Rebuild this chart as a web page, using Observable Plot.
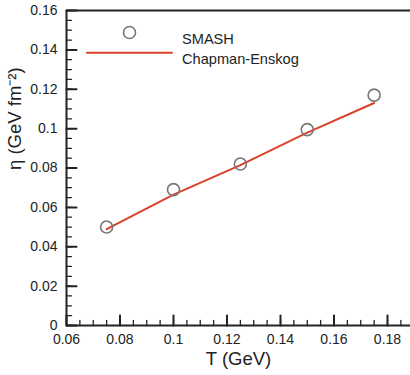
<!DOCTYPE html>
<html>
<head>
<meta charset="utf-8">
<script src="https://cdn.jsdelivr.net/npm/d3@7"></script>
<script src="https://cdn.jsdelivr.net/npm/@observablehq/plot@0.6"></script>
<style>
  html, body { margin: 0; padding: 0; background: white; }
</style>
</head>
<body>
<div id="chart"></div>
<script>
// Data
const temperatures = [0.075, 0.1, 0.125, 0.15, 0.175];
const smashEta = [0.050, 0.069, 0.082, 0.0995, 0.117];
const ceTemps = [0.075, 0.1, 0.125, 0.15, 0.175];
const ceEta = [0.049, 0.0665, 0.0815, 0.098, 0.113];
const xTickLabels = [0.06, 0.08, 0.1, 0.12, 0.14, 0.16, 0.18];
const yTickLabels = [0, 0.02, 0.04, 0.06, 0.08, 0.1, 0.12, 0.14, 0.16];
const seriesNames = ["SMASH", "Chapman-Enskog"];

const xMinor = d3.range(0, 27).map(i => 0.06 + i * 0.005).filter(v => v < 0.188);
const yMinor = d3.range(0, 33).map(i => i * 0.005);

const smash = temperatures.map((t, i) => ({T: t, eta: smashEta[i]}));
const ce = ceTemps.map((t, i) => ({T: t, eta: ceEta[i]}));

const red = "#d9412b";
const gray = "#777";
const ink = "#222";

const tickShape = {draw(context, l) { context.moveTo(0, 0); context.lineTo(0, -l); }};

const chart = Plot.plot({
  width: 410,
  height: 375,
  marginLeft: 66,
  marginRight: 0,
  marginTop: 10,
  marginBottom: 50,
  style: {fontFamily: "'Liberation Sans', Arial, Helvetica, sans-serif", fontSize: "14px", color: ink, background: "white"},
  x: {domain: [0.06, 0.1886]},
  y: {domain: [0, 0.16]},
  marks: [
    Plot.axisX(xTickLabels, {tickSize: 0, tickPadding: 9, tickFormat: d => String(d), label: null, fontSize: 14}),
    Plot.axisY(yTickLabels, {tickSize: 0, tickPadding: 9, tickFormat: d => String(d), label: null, fontSize: 14}),
    // minor and major ticks (inward)
    Plot.vector(xMinor, {x: d => d, frameAnchor: "bottom", length: 5, anchor: "start", shape: tickShape, stroke: ink, strokeWidth: 1.3}),
    Plot.vector(xTickLabels, {x: d => d, frameAnchor: "bottom", length: 10, anchor: "start", shape: tickShape, stroke: ink, strokeWidth: 2}),
    Plot.vector(yMinor, {y: d => d, frameAnchor: "left", length: 5, rotate: 90, anchor: "start", shape: tickShape, stroke: ink, strokeWidth: 1.3}),
    Plot.vector(yTickLabels, {y: d => d, frameAnchor: "left", length: 10, rotate: 90, anchor: "start", shape: tickShape, stroke: ink, strokeWidth: 2}),
    // frame (left, bottom, top)
    Plot.ruleX([0.06], {stroke: ink, strokeWidth: 2}),
    Plot.ruleY([0, 0.16], {stroke: ink, strokeWidth: 2}),
    // data
    Plot.line(ce, {x: "T", y: "eta", stroke: red, strokeWidth: 2}),
    Plot.dot(smash, {x: "T", y: "eta", r: 6, stroke: gray, strokeWidth: 1.6, fill: "none"}),
    // legend
    Plot.dot([seriesNames[0]], {frameAnchor: "top-left", dx: 63, dy: 22, r: 6, stroke: gray, strokeWidth: 1.6, fill: "none"}),
    Plot.vector([seriesNames[1]], {frameAnchor: "top-left", dx: 20.5, dy: 42.3, rotate: 90, length: 85, anchor: "start", shape: tickShape, stroke: red, strokeWidth: 2}),
    Plot.text([seriesNames[0]], {frameAnchor: "top-left", text: d => d, dx: 115.5, dy: 23, textAnchor: "start", fontSize: 14.6, fill: ink}),
    Plot.text([seriesNames[1]], {frameAnchor: "top-left", text: d => d, dx: 115.5, dy: 43.5, textAnchor: "start", fontSize: 14.6, fill: ink}),
    // axis titles
    Plot.text(["T (GeV)"], {frameAnchor: "bottom", text: d => d, dy: 39, fontSize: 18.5, fill: ink}),
    Plot.text(["η (GeV fm⁻²)"], {frameAnchor: "left", text: d => d, dx: -51, dy: 2, rotate: -90, fontSize: 18.5, fill: ink})
  ]
});
document.getElementById("chart").appendChild(chart);
</script>
</body>
</html>
